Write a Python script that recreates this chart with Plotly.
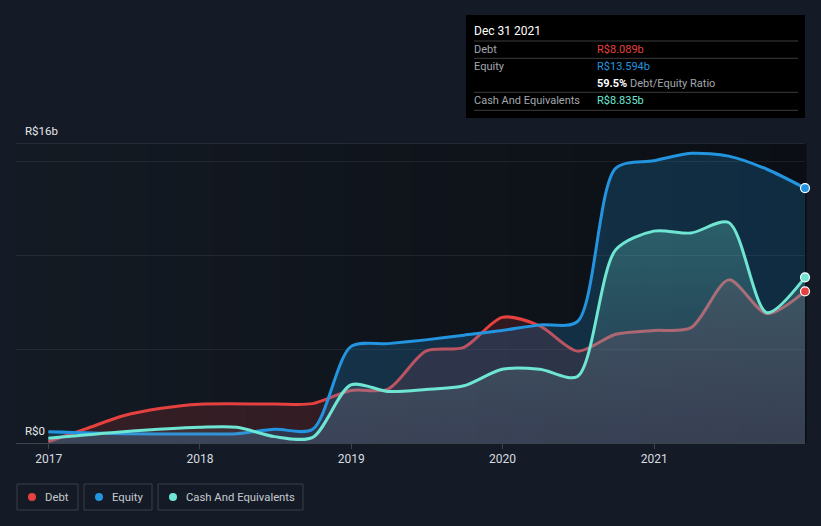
import plotly.graph_objects as go

# ---------------- data ----------------
debt_dates = ["2016-12-31", "2017-03-31", "2017-06-30", "2017-09-30", "2017-12-31",
              "2018-06-30", "2018-09-30", "2018-12-31", "2019-03-31", "2019-06-30",
              "2019-09-30", "2019-12-31", "2020-03-31", "2020-06-30", "2020-09-30",
              "2020-12-31", "2021-03-31", "2021-06-30", "2021-09-30", "2021-12-31"]
debt_vals = [0.07, 0.75, 1.45, 1.85, 2.07,
             2.08, 2.1, 2.8, 2.88, 4.9,
             5.1, 6.7, 6.25, 4.9, 5.8,
             6.0, 6.15, 8.7, 6.9, 8.089]

equity_dates = ["2016-12-31", "2017-06-30", "2017-12-31", "2018-03-31", "2018-06-30",
                "2018-09-30", "2018-12-31", "2019-03-31", "2019-06-30", "2019-09-30",
                "2019-12-31", "2020-03-31", "2020-06-30", "2020-09-30", "2020-12-31",
                "2021-03-31", "2021-06-30", "2021-09-30", "2021-12-31"]
equity_vals = [0.6, 0.5, 0.48, 0.5, 0.73,
               0.73, 5.14, 5.3, 5.5, 5.75,
               6.0, 6.3, 6.48, 14.65, 15.05,
               15.45, 15.3, 14.6, 13.594]

cash_dates = ["2016-12-31", "2017-06-30", "2017-12-31", "2018-03-31", "2018-06-30",
              "2018-09-30", "2018-12-31", "2019-03-31", "2019-06-30", "2019-09-30",
              "2019-12-31", "2020-03-31", "2020-06-30", "2020-09-30", "2020-12-31",
              "2021-03-31", "2021-06-30", "2021-09-30", "2021-12-31"]
cash_vals = [0.25, 0.6, 0.84, 0.84, 0.34,
             0.3, 3.1, 2.75, 2.85, 3.05,
             3.93, 3.93, 3.55, 10.3, 11.3,
             11.2, 11.76, 6.95, 8.835]

year_ticks = ["2017-01-01", "2018-01-01", "2019-01-01", "2020-01-01", "2021-01-01"]
year_labels = ["2017", "2018", "2019", "2020", "2021"]
y_gridvals = [5, 10, 15]
y_labels = [(0, "R$0"), (16, "R$16b")]

tooltip_date = "Dec 31 2021"
tooltip_rows = [("Debt", "R$8.089b"), ("Equity", "R$13.594b"),
                ("", "59.5%"), ("Cash And Equivalents", "R$8.835b")]
legend_names = ["Debt", "Equity", "Cash And Equivalents"]

# ---------------- style ----------------
RED = "#e5413f"
BLUE = "#2394df"
TEAL = "#6ee6d3"
BG = "#151b26"
W, H = 821, 526
L, R, T, B = 16, 805, 143, 443


def px(x):
    return (x - L) / (R - L)


def py(y):
    return (B - y) / (B - T)


fig = go.Figure()

fig.add_trace(go.Scatter(
    x=debt_dates, y=debt_vals, mode="lines", name="Debt",
    line=dict(color=RED, width=3, shape="spline", smoothing=0.8),
    fill="tozeroy", fillcolor="rgba(229,65,63,0.16)", hoverinfo="skip"))
fig.add_trace(go.Scatter(
    x=equity_dates, y=equity_vals, mode="lines", name="Equity",
    line=dict(color=BLUE, width=3, shape="spline", smoothing=0.8),
    fill="tozeroy", fillcolor="rgba(35,148,223,0.22)", hoverinfo="skip"))
fig.add_trace(go.Scatter(
    x=cash_dates, y=cash_vals, mode="lines", name="Cash And Equivalents",
    line=dict(color=TEAL, width=3, shape="spline", smoothing=0.8),
    fill="tozeroy",
    fillgradient=dict(type="vertical", start=0, stop=12,
                      colorscale=[[0, "rgba(135,150,165,0.13)"],
                                  [1, "rgba(100,215,200,0.30)"]]),
    hoverinfo="skip"))

# end markers
for d, v, c in [(equity_dates[-1], equity_vals[-1], BLUE),
                (cash_dates[-1], cash_vals[-1], TEAL),
                (debt_dates[-1], debt_vals[-1], RED)]:
    fig.add_trace(go.Scatter(x=[d], y=[v], mode="markers", cliponaxis=False,
                             marker=dict(color=c, size=9, line=dict(color="white", width=1.2)),
                             hoverinfo="skip", showlegend=False))

shapes = []
# plot background gradient (left lighter -> right darker)
n = 24
c0 = (20, 26, 35)
c1 = (11, 15, 21)
for i in range(n):
    f = i / (n - 1)
    col = tuple(int(round(c0[k] + (c1[k] - c0[k]) * f)) for k in range(3))
    shapes.append(dict(type="rect", xref="paper", yref="paper", layer="below",
                       x0=i / n, x1=(i + 1) / n + 0.002, y0=0, y1=1,
                       fillcolor="rgb(%d,%d,%d)" % col, line=dict(width=0)))
# top line at 16b
shapes.append(dict(type="line", xref="paper", yref="y", x0=0, x1=1, y0=16, y1=16,
                   line=dict(color="#3b4049", width=1), layer="below"))

# tooltip box
shapes.append(dict(type="rect", xref="paper", yref="paper",
                   x0=px(466), x1=px(805), y0=py(118), y1=py(15),
                   fillcolor="#000000", line=dict(width=0)))
for sy in [41, 58.3, 92.3, 110.3]:
    shapes.append(dict(type="line", xref="paper", yref="paper",
                       x0=px(474), x1=px(798), y0=py(sy), y1=py(sy),
                       line=dict(color="#3c3c3c", width=1)))

annotations = []
for val, txt in y_labels:
    annotations.append(dict(xref="paper", yref="y", x=px(23), y=val, xanchor="left",
                            yanchor="bottom", yshift=3, text=txt, showarrow=False,
                            font=dict(color="#e6e8eb", size=11.5, family="Roboto")))
annotations.append(dict(xref="paper", yref="paper", x=px(472), y=py(31), xanchor="left",
                        yanchor="middle", text=tooltip_date, showarrow=False,
                        font=dict(color="#ffffff", size=12, family="Roboto")))
row_y = [49.5, 66.5, 83.5, 100]
val_colors = [RED, BLUE, "#ffffff", TEAL]
for (lab, val), ry, vc in zip(tooltip_rows, row_y, val_colors):
    if lab:
        annotations.append(dict(xref="paper", yref="paper", x=px(472), y=py(ry), xanchor="left",
                                yanchor="middle", text=lab, showarrow=False,
                                font=dict(color="#a3a7ad", size=11, family="Roboto")))
        txt = val
    else:
        txt = "<b>%s</b> <span style='color:#a3a7ad'>Debt/Equity Ratio</span>" % val
    annotations.append(dict(xref="paper", yref="paper", x=px(595), y=py(ry), xanchor="left",
                            yanchor="middle", text=txt, showarrow=False,
                            font=dict(color=vc, size=11, family="Roboto")))

# legend boxes
boxes = [(17, 78, 32, 43), (84, 152, 99, 110), (158, 303, 173, 184)]
for (bx0, bx1, dx, tx), name, c in zip(boxes, legend_names, [RED, BLUE, TEAL]):
    shapes.append(dict(type="rect", xref="paper", yref="paper",
                       x0=px(bx0), x1=px(bx1), y0=py(510), y1=py(484),
                       line=dict(color="#3a3f48", width=1), fillcolor="rgba(0,0,0,0)"))
    shapes.append(dict(type="circle", xref="paper", yref="paper",
                       x0=px(dx - 4), x1=px(dx + 4), y0=py(501), y1=py(493),
                       fillcolor=c, line=dict(width=0)))
    annotations.append(dict(xref="paper", yref="paper", x=px(tx), y=py(497), xanchor="left",
                            yanchor="middle", text=name, showarrow=False,
                            font=dict(color="#c6cad0", size=11.3, family="Roboto")))

fig.update_layout(
    width=W, height=H,
    margin=dict(l=L, r=W - R, t=T, b=H - B, pad=0),
    paper_bgcolor=BG, plot_bgcolor=BG,
    showlegend=False,
    shapes=shapes, annotations=annotations,
    font=dict(family="Roboto", color="#d8dbe0", size=12),
    xaxis=dict(type="date", range=["2016-10-14", "2021-12-31"],
               tickvals=year_ticks, ticktext=year_labels,
               showgrid=False, zeroline=False,
               showline=True, linecolor="#3d434c", linewidth=1,
               ticks="outside", ticklen=5, tickcolor="#3d434c",
               tickfont=dict(size=12, color="#d8dbe0")),
    yaxis=dict(range=[0, 16], tickvals=y_gridvals, showticklabels=False,
               showgrid=True, gridcolor="rgba(255,255,255,0.07)", gridwidth=1,
               zeroline=False, showline=False, ticks=""),
)

fig.write_html("out.html", config={"displayModeBar": False},
               post_script="document.body.style.margin='0';document.body.style.padding='0';document.documentElement.style.overflow='hidden';")
